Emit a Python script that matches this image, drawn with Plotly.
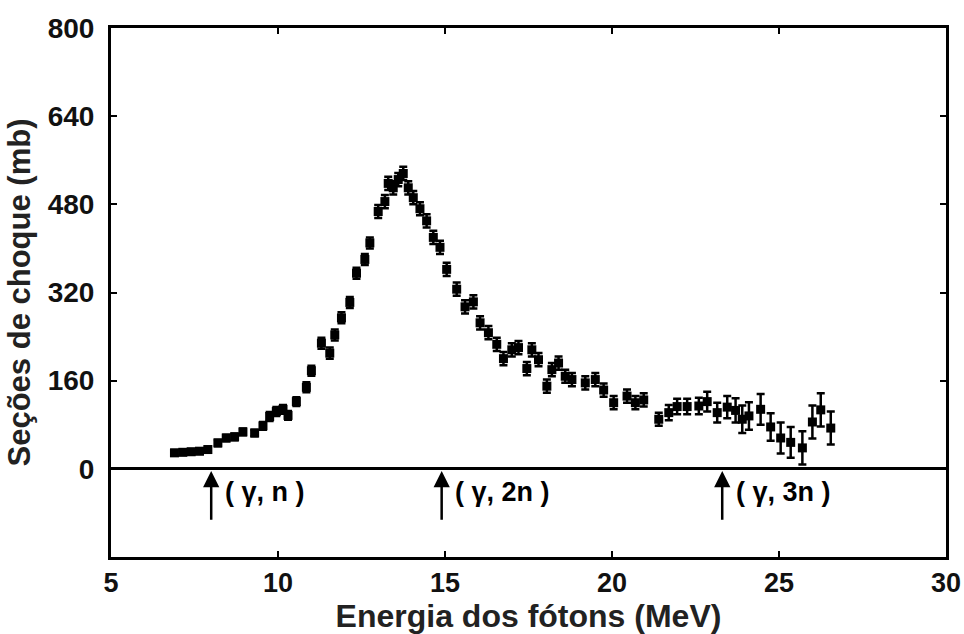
import plotly.graph_objects as go

energy = [6.9, 7.15, 7.4, 7.65, 7.9, 8.2, 8.45, 8.7, 8.95, 9.3, 9.55, 9.75, 9.95, 10.15, 10.3,
          10.55, 10.85, 11.0, 11.3, 11.55, 11.7, 11.9, 12.15, 12.35, 12.6, 12.75,
          13.0, 13.2, 13.3, 13.45, 13.6, 13.75, 13.9, 14.05, 14.25, 14.45, 14.65, 14.85,
          15.05, 15.35, 15.6, 15.85, 16.05, 16.3, 16.55, 16.75, 17.0, 17.2, 17.45, 17.6, 17.8,
          18.05, 18.2, 18.4, 18.6, 18.8, 19.2, 19.5, 19.75, 20.05, 20.45, 20.7, 20.95,
          21.4, 21.7, 21.95, 22.25, 22.6, 22.85, 23.15, 23.45, 23.7, 23.9, 24.1, 24.45,
          24.75, 25.05, 25.35, 25.7, 26.0, 26.25, 26.55]
sigma = [29, 30, 31, 32, 35, 47, 56, 58, 67, 65, 78, 95, 104, 108, 97,
         122, 148, 178, 228, 210, 243, 274, 302, 355, 380, 410,
         467, 485, 518, 510, 525, 536, 510, 492, 472, 450, 420, 402,
         362, 326, 294, 303, 265, 247, 226, 200, 216, 220, 182, 216, 198,
         150, 180, 192, 168, 162, 156, 162, 143, 120, 132, 120, 125,
         90, 102, 113, 113, 114, 122, 102, 112, 106, 90, 96, 108,
         76, 56, 48, 38, 85, 107, 74]
errors = [5, 5, 5, 5, 5, 6, 6, 6, 6, 6, 7, 8, 8, 8, 8,
          8, 9, 9, 10, 10, 10, 10, 10, 10, 10, 10,
          12, 12, 12, 12, 12, 12, 12, 12, 12, 12, 12, 12,
          12, 12, 12, 12, 12, 12, 12, 12, 12, 12, 12, 12, 12,
          12, 12, 12, 12, 12, 12, 12, 12, 12, 12, 12, 12,
          12, 14, 14, 14, 15, 18, 18, 20, 22, 25, 25, 28,
          25, 28, 28, 30, 30, 30, 30]

threshold_energy = [8.0, 14.9, 23.3]
threshold_label = ["( γ, n )", "( γ, 2n )", "( γ, 3n )"]

x_ticks = [5, 10, 15, 20, 25, 30]
y_ticks = [0, 160, 320, 480, 640, 800]

SANS = "Liberation Sans, Arial, sans-serif"

fig = go.Figure()
fig.add_trace(go.Scatter(
    x=energy, y=sigma, mode="markers",
    marker=dict(symbol="square", size=9, color="black"),
    error_y=dict(type="data", array=errors, visible=True, color="black", thickness=2.5, width=4),
    showlegend=False, hoverinfo="skip",
))

for e, lab in zip(threshold_energy, threshold_label):
    fig.add_annotation(x=e, y=-4, ax=e, ay=-95, xref="x", yref="y", axref="x", ayref="y",
                       showarrow=True, arrowhead=2, arrowsize=1.3, arrowwidth=2.5,
                       arrowcolor="black", text="")
    fig.add_annotation(x=e + 0.35, y=-42, xref="x", yref="y", text=lab, showarrow=False,
                       xanchor="left", yanchor="middle",
                       font=dict(family=SANS, size=27, color="black", weight="bold"))

axis_common = dict(showline=True, linewidth=3, linecolor="black", mirror="ticks",
                   ticks="inside", ticklen=6, tickwidth=2, tickcolor="black",
                   showgrid=False, automargin=False)

fig.update_layout(
    width=964, height=634,
    margin=dict(l=111, r=18, t=28, b=77),
    paper_bgcolor="white", plot_bgcolor="white",
    xaxis=dict(range=[5, 30], tickvals=x_ticks, zeroline=False, ticklabelstandoff=0,
               tickfont=dict(family=SANS, size=27, color="#111", weight="bold"),
               title=dict(text="Energia dos fótons (MeV)", standoff=4,
                          font=dict(family=SANS, size=32, color="#222", weight="bold")),
               **axis_common),
    yaxis=dict(range=[-160, 800], tickvals=y_ticks, zeroline=True, zerolinewidth=3,
               zerolinecolor="black", ticklabelstandoff=8,
               tickfont=dict(family=SANS, size=28, color="#111", weight="bold"),
               title=dict(text="Seções de choque (mb)", standoff=8,
                          font=dict(family=SANS, size=31, color="#222", weight="bold")),
               **axis_common),
)

# remove the default 8 px page margin so the figure fills the 964x634 window exactly
fig.write_html("out.html", config={"displayModeBar": False},
               post_script="document.body.style.margin='0';")
